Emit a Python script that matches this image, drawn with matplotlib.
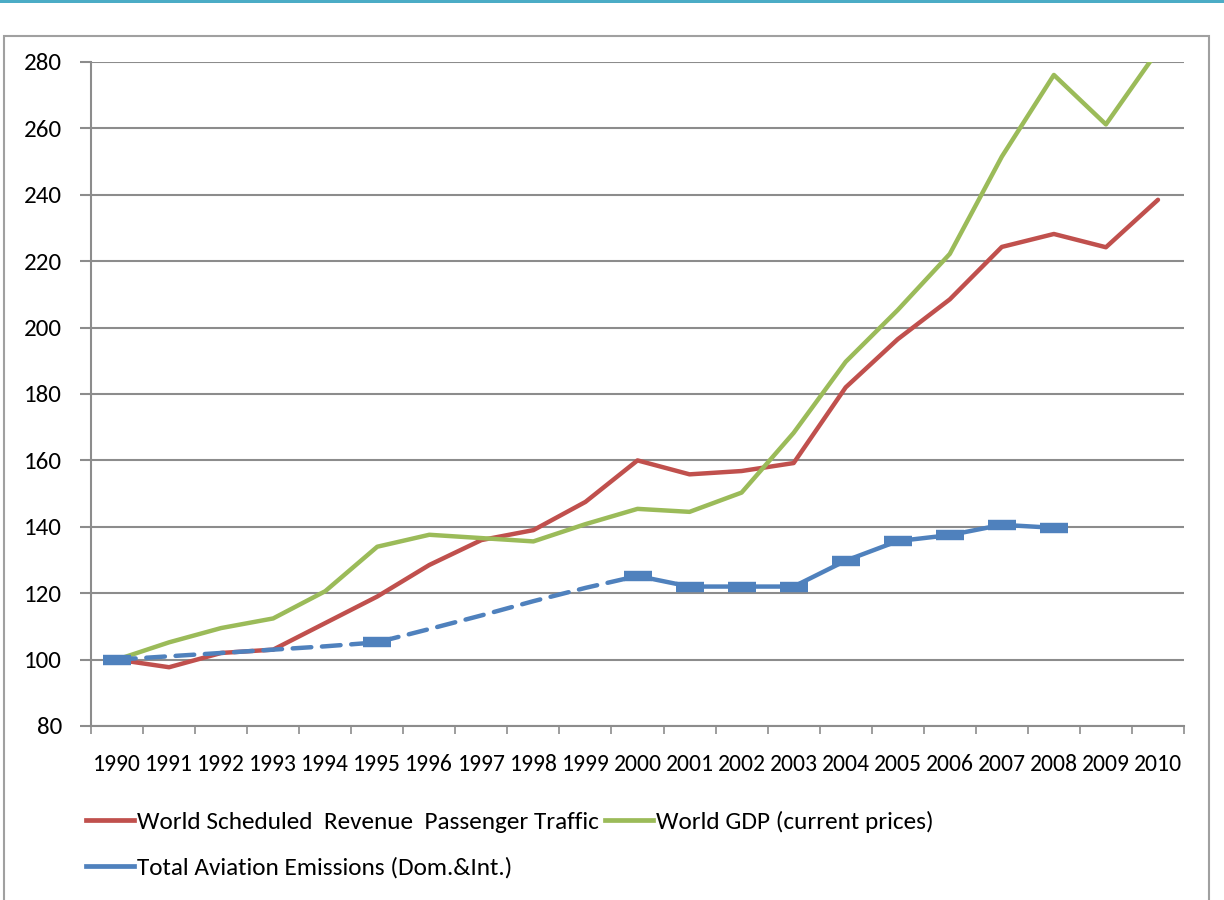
import matplotlib
matplotlib.use("Agg")
import matplotlib.pyplot as plt
from matplotlib.lines import Line2D
from matplotlib.patches import Rectangle
import logging

logging.getLogger("matplotlib.font_manager").setLevel(logging.ERROR)
plt.rcParams['font.family'] = ['Carlito', 'Liberation Sans Narrow', 'Lato', 'DejaVu Sans']

years = [str(y) for y in range(1990, 2011)]
passenger = [100, 97.7, 102, 103, 111, 119, 128.5, 136, 139, 147.5, 160,
             155.8, 156.8, 159.2, 182, 196.5, 208.5, 224.3, 228.2, 224.2, 238.5]
gdp = [100, 105.2, 109.5, 112.4, 120.6, 134, 137.6, 136.6, 135.6, 140.8, 145.4,
       144.5, 150.3, 168.3, 189.7, 205.3, 222.2, 251.5, 276.1, 261.2, 283.5]
# emissions estimate 1990-2000 (dashed), reported 2000-2008 (solid)
emis_est_years = years[:11]
emis_est = [100, 101, 102, 103, 104, 105.2, 109.2, 113.3, 117.6, 121.6, 125.2]
emis_years = years[10:19]
emis = [125.2, 122, 122, 122, 129.8, 135.7, 137.5, 140.6, 139.7]
emis_marker_years = ['1990', '1995']
emis_marker_vals = [100, 105.2]

RED = '#c0504d'
GREEN = '#9bbb59'
BLUE = '#4f81bd'
GRID = '#8c8c8c'

fig = plt.figure(figsize=(12.24, 9), dpi=100)
W, H = 1224, 900

# outer chart frame and the teal line on top
fig.patches.append(Rectangle((0, 1 - 3 / H), 1, 3 / H, transform=fig.transFigure,
                             facecolor='#4bacc6', edgecolor='none'))
fig.patches.append(Rectangle((4 / W, -0.02), (1209 - 4) / W, 1.02 - 36 / H,
                             transform=fig.transFigure, facecolor='none',
                             edgecolor='#a0a0a0', lw=1.5))

ax = fig.add_axes([91 / W, 1 - 726 / H, (1184 - 91) / W, (726 - 62) / H])
x = list(range(len(years)))
idx = {y: i for i, y in enumerate(years)}

LW = 3.2
ax.plot(x, passenger, color=RED, lw=LW, solid_capstyle='round', solid_joinstyle='round', zorder=3)
ax.plot(x, gdp, color=GREEN, lw=LW, solid_capstyle='round', solid_joinstyle='round', zorder=3)
ax.plot([idx[y] for y in emis_est_years], emis_est, color=BLUE, lw=LW,
        ls=(0, (4.2, 2.4)), dash_capstyle='round', zorder=4)
ax.plot([idx[y] for y in emis_years], emis, color=BLUE, lw=LW,
        solid_joinstyle='round', solid_capstyle='round', zorder=4)
ax.plot([idx[y] for y in emis_years] + [idx[y] for y in emis_marker_years],
        emis + emis_marker_vals, ls='none', marker='_', ms=20, mew=7.5,
        color=BLUE, zorder=5)

ax.set_xlim(-0.5, len(years) - 0.5)
ax.set_ylim(80, 280)
ax.set_yticks(range(80, 281, 20))
ax.yaxis.grid(True, color=GRID, lw=1.5)
ax.set_axisbelow(True)

ax.set_xticks(x)
ax.set_xticklabels(years)
ax.set_xticks([i - 0.5 for i in range(len(years) + 1)], minor=True)
ax.tick_params(axis='x', which='major', length=0, pad=20, labelsize=17)
ax.tick_params(axis='x', which='minor', length=6, width=1.2, color=GRID, direction='out')
ax.tick_params(axis='y', length=8, width=1.5, color=GRID, pad=13, labelsize=18)

for s in ['top', 'right']:
    ax.spines[s].set_visible(False)
for s in ['left', 'bottom']:
    ax.spines[s].set_color(GRID)
    ax.spines[s].set_linewidth(1.5)

handles = [Line2D([], [], color=RED, lw=3.4),
           Line2D([], [], color=BLUE, lw=3.4),
           Line2D([], [], color=GREEN, lw=3.4)]
labels = ['World Scheduled  Revenue  Passenger Traffic',
          'Total Aviation Emissions (Dom.&Int.)',
          'World GDP (current prices)']
fig.legend(handles, labels, ncol=2, loc='upper left',
           bbox_to_anchor=(86 / W, 1 - 811 / H), frameon=False,
           fontsize=18.2, handlelength=1.9, handletextpad=0.12,
           columnspacing=0.25, labelspacing=0.95, borderaxespad=0, borderpad=0)

fig.savefig('out.png', dpi=100)
